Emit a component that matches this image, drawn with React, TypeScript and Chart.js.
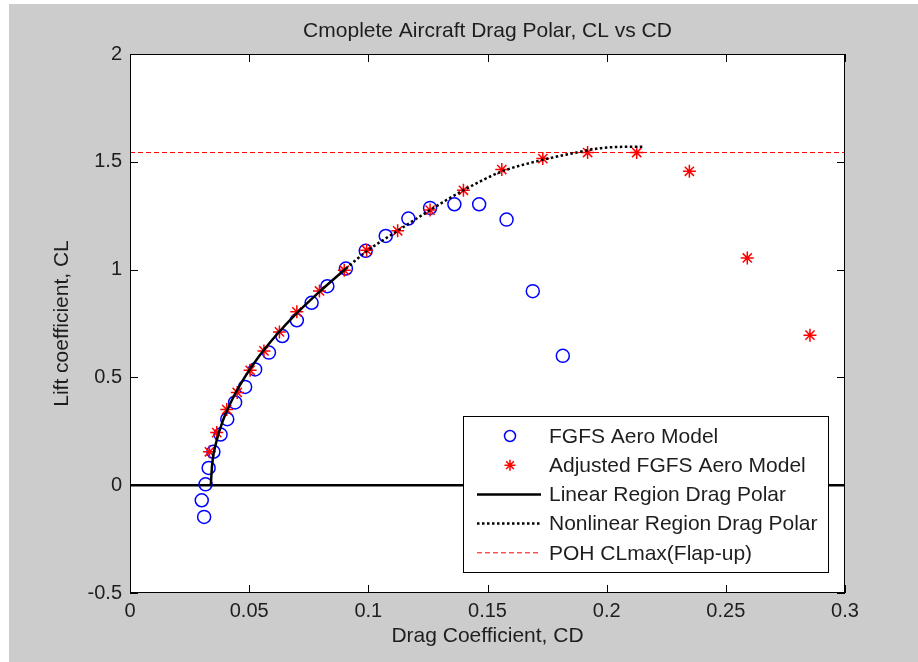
import React, { useEffect, useRef } from 'react';
import { Chart, registerables } from 'chart.js';

Chart.register(...registerables);

// ---- Data ----
const fgfsCD = [0.0311, 0.0301, 0.0317, 0.0330, 0.0350, 0.0380, 0.0408, 0.0441, 0.0483, 0.0525, 0.0583, 0.0639, 0.0700, 0.0762, 0.0828, 0.0906, 0.0989, 0.1073, 0.1168, 0.1259, 0.1361, 0.1465, 0.1580, 0.1690, 0.1816];
const fgfsCL = [-0.147, -0.07, 0.004, 0.08, 0.155, 0.235, 0.306, 0.384, 0.456, 0.537, 0.615, 0.692, 0.765, 0.846, 0.923, 1.005, 1.087, 1.156, 1.237, 1.286, 1.303, 1.303, 1.232, 0.90, 0.60];

const adjCD = [0.0333, 0.0364, 0.0406, 0.0450, 0.0504, 0.0562, 0.0627, 0.0700, 0.0795, 0.0899, 0.0993, 0.1123, 0.1259, 0.1399, 0.1560, 0.1732, 0.1920, 0.2126, 0.2347, 0.2590, 0.2853];
const adjCL = [0.155, 0.244, 0.351, 0.430, 0.533, 0.623, 0.711, 0.804, 0.901, 0.997, 1.090, 1.180, 1.276, 1.368, 1.464, 1.515, 1.543, 1.543, 1.456, 1.054, 0.696];

const linCD = [0.0339, 0.0345, 0.0362, 0.0390, 0.0430, 0.0481, 0.0543, 0.0617, 0.0702, 0.0798, 0.0906];
const linCL = [0.0, 0.1, 0.2, 0.3, 0.4, 0.5, 0.6, 0.7, 0.8, 0.9, 1.005];

const nonCD = [0.0906, 0.0993, 0.1123, 0.1259, 0.1399, 0.1560, 0.1735, 0.1875, 0.1970, 0.2050, 0.2150];
const nonCL = [1.005, 1.085, 1.180, 1.276, 1.368, 1.455, 1.510, 1.543, 1.563, 1.569, 1.570];

const clMaxValue = 1.543;
const xRange = [0, 0.3];

const xTickValues = [0, 0.05, 0.1, 0.15, 0.2, 0.25, 0.3];
const xTickLabels = ['0', '0.05', '0.1', '0.15', '0.2', '0.25', '0.3'];
const yTickValues = [-0.5, 0, 0.5, 1, 1.5, 2];
const yTickLabels = ['-0.5', '0', '0.5', '1', '1.5', '2'];

const seriesLabels = [
  'FGFS Aero Model',
  'Adjusted FGFS Aero Model',
  'Linear Region Drag Polar',
  'Nonlinear Region Drag Polar',
  'POH CLmax(Flap-up)',
];
const titleText = 'Cmoplete Aircraft Drag Polar, CL vs CD';
const xTitleText = 'Drag Coefficient, CD';
const yTitleText = 'Lift coefficient, CL';

// ---- Styles ----
const FONT = '"Liberation Sans", Arial, sans-serif';
const TEXT_COLOR = '#1e1e1e';

const pts = (xs: number[], ys: number[]) => xs.map((x, i) => ({ x, y: ys[i] }));

function drawMarker(ctx: CanvasRenderingContext2D, style: string, x: number, y: number, r: number, color: string, lw: number) {
  ctx.save();
  ctx.strokeStyle = color;
  ctx.lineWidth = lw;
  ctx.beginPath();
  if (style === 'circle') {
    ctx.arc(x, y, r, 0, Math.PI * 2);
  } else {
    ctx.moveTo(x - r, y); ctx.lineTo(x + r, y);
    ctx.moveTo(x, y - r); ctx.lineTo(x, y + r);
    const d = r * 0.7071;
    ctx.moveTo(x - d, y - d); ctx.lineTo(x + d, y + d);
    ctx.moveTo(x - d, y + d); ctx.lineTo(x + d, y - d);
  }
  ctx.stroke();
  ctx.restore();
}

const matlabPlugin = {
  id: 'matlabLook',
  beforeDraw(chart: any) {
    const ctx = chart.ctx as CanvasRenderingContext2D;
    const { width, height } = chart;
    const a = chart.chartArea;
    ctx.save();
    ctx.fillStyle = '#ffffff';
    ctx.fillRect(0, 0, width, height);
    ctx.fillStyle = '#cccccc';
    ctx.fillRect(9, 4, width - 9, height - 4);
    ctx.fillStyle = '#ffffff';
    ctx.fillRect(a.left, a.top, a.right - a.left, a.bottom - a.top);
    ctx.restore();
  },
  afterDatasetsDraw(chart: any) {
    const ctx = chart.ctx as CanvasRenderingContext2D;
    const bx = 463, by = 416, bw = 365, bh = 156;
    ctx.save();
    ctx.fillStyle = '#ffffff';
    ctx.fillRect(bx, by, bw, bh);
    ctx.strokeStyle = '#000000';
    ctx.lineWidth = 1;
    ctx.strokeRect(bx + 0.5, by + 0.5, bw, bh);
    const items = chart.data.datasets.filter((d: any) => d.label);
    const rowY0 = 436, rowStep = 29.2;
    ctx.font = `21px ${FONT}`;
    ctx.textAlign = 'left';
    ctx.textBaseline = 'middle';
    items.forEach((d: any, i: number) => {
      const y = rowY0 + i * rowStep;
      if (d.showLine) {
        ctx.save();
        ctx.strokeStyle = d.borderColor;
        ctx.lineWidth = d.borderWidth;
        ctx.setLineDash(d.borderDash || []);
        ctx.beginPath();
        ctx.moveTo(477, y);
        ctx.lineTo(541, y);
        ctx.stroke();
        ctx.restore();
      } else {
        drawMarker(ctx, d.pointStyle, 510, y, 5.5, d.pointBorderColor, d.pointBorderWidth);
      }
      ctx.fillStyle = TEXT_COLOR;
      ctx.fillText(d.label, 549, y + 1);
    });
    ctx.restore();
  },
  afterDraw(chart: any) {
    const ctx = chart.ctx as CanvasRenderingContext2D;
    const a = chart.chartArea;
    const xs = chart.scales.x, ys = chart.scales.y;
    ctx.save();
    // frame
    ctx.strokeStyle = '#000000';
    ctx.lineWidth = 1;
    ctx.strokeRect(a.left + 0.5, a.top + 0.5, a.right - a.left - 1, a.bottom - a.top - 1);
    // inward ticks on all sides
    const tl = 8;
    ctx.beginPath();
    xTickValues.forEach((v) => {
      const px = Math.round(xs.getPixelForValue(v)) + 0.5;
      ctx.moveTo(px, a.bottom); ctx.lineTo(px, a.bottom - tl);
      ctx.moveTo(px, a.top); ctx.lineTo(px, a.top + tl);
    });
    yTickValues.forEach((v) => {
      const py = Math.round(ys.getPixelForValue(v)) + 0.5;
      ctx.moveTo(a.left, py); ctx.lineTo(a.left + tl, py);
      ctx.moveTo(a.right, py); ctx.lineTo(a.right - tl, py);
    });
    ctx.stroke();
    // titles
    ctx.fillStyle = TEXT_COLOR;
    ctx.textAlign = 'center';
    ctx.textBaseline = 'middle';
    ctx.font = `21px ${FONT}`;
    const cx = (a.left + a.right) / 2;
    ctx.fillText(titleText, cx, 31);
    ctx.fillText(xTitleText, cx, 636);
    ctx.translate(62, (a.top + a.bottom) / 2);
    ctx.rotate(-Math.PI / 2);
    ctx.fillText(yTitleText, 0, 0);
    ctx.restore();
  },
};

export default function App() {
  const canvasRef = useRef<HTMLCanvasElement | null>(null);

  useEffect(() => {
    const canvas = canvasRef.current;
    if (!canvas) return;
    const chart = new Chart(canvas, {
      type: 'scatter',
      data: {
        datasets: [
          {
            label: seriesLabels[0],
            data: pts(fgfsCD, fgfsCL),
            showLine: false,
            pointStyle: 'circle',
            pointRadius: 6.5,
            pointBorderColor: '#0000ff',
            pointBackgroundColor: 'rgba(0,0,0,0)',
            pointBorderWidth: 1.5,
            borderColor: '#0000ff',
            order: 8,
          },
          {
            label: seriesLabels[1],
            data: pts(adjCD, adjCL),
            showLine: false,
            pointStyle: 'star',
            pointRadius: 6.5,
            pointBorderColor: '#ff0000',
            pointBackgroundColor: '#ff0000',
            pointBorderWidth: 1.5,
            borderColor: '#ff0000',
            order: 7,
          },
          {
            label: seriesLabels[2],
            data: pts(linCD, linCL),
            showLine: true,
            pointRadius: 0,
            borderColor: '#000000',
            borderWidth: 2.5,
            borderDash: [],
            cubicInterpolationMode: 'monotone',
            order: 5,
          },
          {
            label: seriesLabels[3],
            data: pts(nonCD, nonCL),
            showLine: true,
            pointRadius: 0,
            borderColor: '#000000',
            borderWidth: 2.5,
            borderDash: [2.5, 2.5],
            cubicInterpolationMode: 'monotone',
            order: 6,
          },
          {
            label: seriesLabels[4],
            data: [{ x: xRange[0], y: clMaxValue }, { x: xRange[1], y: clMaxValue }],
            showLine: true,
            pointRadius: 0,
            borderColor: '#ff0000',
            borderWidth: 1,
            borderDash: [5, 3],
            order: 9,
          },
          {
            label: '',
            data: [{ x: xRange[0], y: 0 }, { x: xRange[1], y: 0 }],
            showLine: true,
            pointRadius: 0,
            borderColor: '#000000',
            borderWidth: 2.5,
            order: 10,
          },
        ],
      } as any,
      options: {
        animation: false,
        responsive: false,
        events: [],
        layout: { padding: { left: 0, top: 54, right: 73, bottom: 0 } },
        plugins: {
          legend: { display: false },
          tooltip: { enabled: false },
          title: { display: false },
        },
        scales: {
          x: {
            type: 'linear',
            min: xRange[0],
            max: xRange[1],
            afterBuildTicks: (s: any) => { s.ticks = xTickValues.map((v) => ({ value: v })); },
            afterFit: (s: any) => { s.height = 69; },
            grid: { display: false, drawTicks: false },
            border: { display: false },
            ticks: {
              callback: (_v: any, i: number) => xTickLabels[i],
              font: { family: FONT, size: 20 },
              color: TEXT_COLOR,
              padding: 6,
              maxRotation: 0,
              autoSkip: false,
            },
          },
          y: {
            type: 'linear',
            min: -0.5,
            max: 2,
            afterBuildTicks: (s: any) => { s.ticks = yTickValues.map((v) => ({ value: v })); },
            afterFit: (s: any) => { s.width = 130; },
            grid: { display: false, drawTicks: false },
            border: { display: false },
            ticks: {
              callback: (_v: any, i: number) => yTickLabels[i],
              font: { family: FONT, size: 20 },
              color: TEXT_COLOR,
              padding: 8,
              autoSkip: false,
            },
          },
        },
      } as any,
      plugins: [matlabPlugin as any],
    });
    return () => chart.destroy();
  }, []);

  return (
    <canvas
      ref={canvasRef}
      width={918}
      height={662}
      style={{ position: 'absolute', left: 0, top: 0, display: 'block', width: 918, height: 662 }}
    />
  );
}
